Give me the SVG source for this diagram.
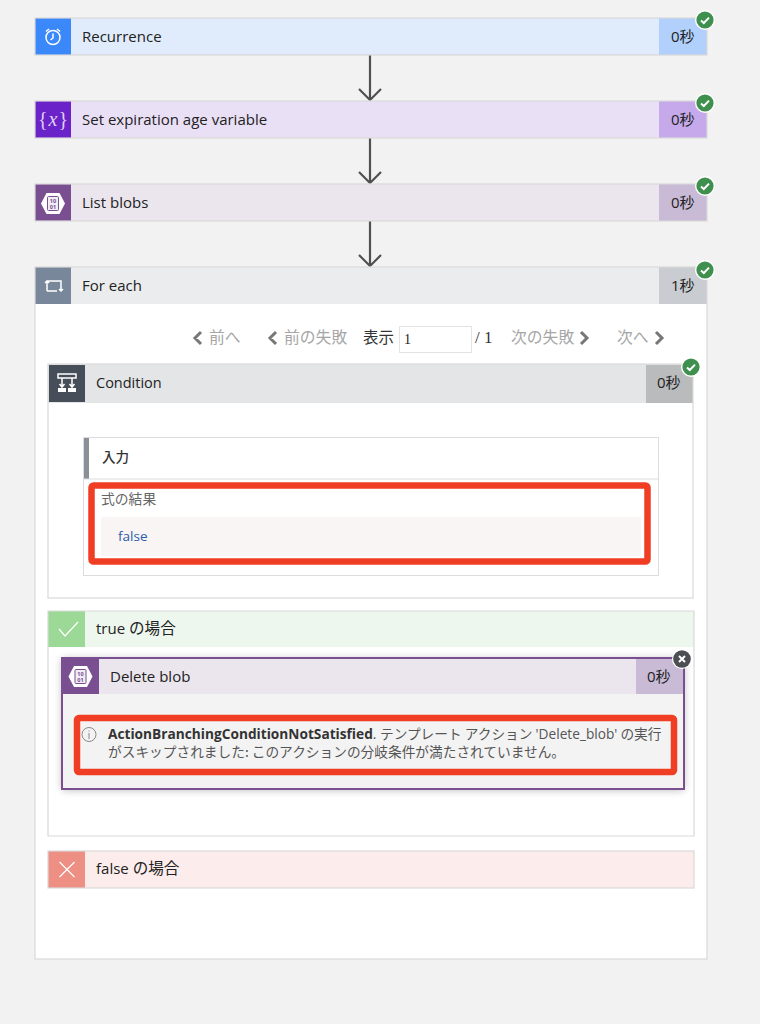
<svg xmlns="http://www.w3.org/2000/svg" width="760" height="1024" viewBox="0 0 760 1024">
<defs>
<style>
text{font-family:"Open Sans","Noto Sans","Noto Sans CJK JP",sans-serif;font-size:15px;fill:#222}
.cjk{font-family:"Noto Sans CJK JP",sans-serif}
.j{font-family:"Noto Sans CJK JP",sans-serif;font-size:15.6px}
.nav{font-size:15.8px;fill:#a6a6a6;font-family:"Noto Sans CJK JP",sans-serif}
.chev{fill:none;stroke:#777;stroke-width:3}
.edge{fill:none;stroke:#505050;stroke-width:2.2}
.ico{fill:none;stroke:#fff;stroke-width:1.5}
.border{fill:none;stroke:#d9d9d9;stroke-width:1.2}
.red{fill:none;stroke:#ef3e23;stroke-width:6.5}
.msg{font-size:13.7px;fill:#555}
</style>
<filter id="soft" x="-5%" y="-15%" width="110%" height="130%"><feGaussianBlur stdDeviation="4"/></filter>
<g id="ok"><circle r="10" fill="#fff"/><circle r="8.6" fill="#3f8f4f"/><path d="M-4 0.500L-1.200 3L4 -2.400" fill="none" stroke="#fff" stroke-width="2"/></g>
<g id="blob"><path d="M-12 0L-6.500 -10.500H6.500L12 0L6.500 10.500H-6.500Z" fill="#fff"/><rect x="-5.500" y="-7" width="11" height="14" rx="1" fill="#f1edf4" stroke="#7a4f91" stroke-width="1"/><text x="0" y="-0.500" text-anchor="middle" style="font-size:5.500px;fill:#7a4f91;font-weight:700">10</text><text x="0" y="5.500" text-anchor="middle" style="font-size:5.500px;fill:#7a4f91;font-weight:700">01</text></g>
</defs>
<rect width="760" height="1024" fill="#f2f2f2"/>
<g id="connectors">
<path class="edge" d="M370 55V100M359 89L370 100L381 89"/>
<path class="edge" d="M370 138V183M359 172L370 183L381 172"/>
<path class="edge" d="M370 221V266M359 255L370 266L381 255"/>
</g>
<g id="recurrence">
<rect x="35" y="18" width="672" height="37" fill="#e0ecfb"/><rect x="659" y="18" width="48" height="37" fill="#b1d0fc"/><rect x="35" y="18" width="36" height="37" fill="#3b88fb"/>
<rect class="border" x="35" y="18" width="672" height="37"/>
<circle class="ico" cx="53" cy="37.500" r="7" stroke-width="2"/><path class="ico" d="M53 33.500V38L50.500 40M46 31.500L49 29M60 31.500L57 29" stroke-width="2"/>
<text x="82" y="42">Recurrence</text><text x="671" y="42">0<tspan class="cjk">秒</tspan></text><use href="#ok" x="705" y="20"/>
</g>
<g id="set-variable">
<rect x="35" y="101" width="672" height="37" fill="#eae0f6"/><rect x="659" y="101" width="48" height="37" fill="#c5a9ea"/><rect x="35" y="101" width="36" height="37" fill="#6a23c8"/>
<rect class="border" x="35" y="101" width="672" height="37"/>
<text x="53" y="126" text-anchor="middle" style="font-family:'Liberation Serif',serif;font-size:20px;fill:#e0cff5">{<tspan dx="1" style="font-style:italic">x</tspan><tspan dx="1">}</tspan></text>
<text x="82" y="125">Set expiration age variable</text><text x="671" y="125">0<tspan class="cjk">秒</tspan></text><use href="#ok" x="705" y="103"/>
</g>
<g id="list-blobs">
<rect x="35" y="184" width="672" height="37" fill="#ebe6ee"/><rect x="659" y="184" width="48" height="37" fill="#c9bad6"/><rect x="35" y="184" width="36" height="37" fill="#7a4f91"/>
<rect class="border" x="35" y="184" width="672" height="37"/>
<use href="#blob" x="53" y="203.500"/>
<text x="82" y="208">List blobs</text><text x="671" y="208">0<tspan class="cjk">秒</tspan></text><use href="#ok" x="705" y="186"/>
</g>
<g id="for-each">
<rect x="35" y="267" width="672" height="692" fill="#fff"/>
<rect x="35" y="267" width="672" height="37" fill="#ebecee"/><rect x="659" y="267" width="48" height="37" fill="#c9cdd1"/><rect x="35" y="267" width="36" height="37" fill="#78889a"/>
<rect class="border" x="35" y="267" width="672" height="692"/>
<path class="ico" d="M47 291V281H61V291M47 291H57M45 283L47 281L49 283M59 289L61 291L63 289" stroke-width="1.200"/>
<text x="82" y="291">For each</text><text x="671" y="291">1<tspan class="cjk">秒</tspan></text><use href="#ok" x="705" y="270"/>
</g>
<g id="pager">
<path class="chev" d="M201 332L195 338L201 344M276 332L270 338L276 344M581 332L587 338L581 344M656 332L662 338L656 344"/>
<text class="nav" x="209" y="343">前へ</text><text class="nav" x="284" y="343">前の失敗</text>
<text class="cjk" x="363" y="343" style="font-size:15.500px;fill:#333">表示</text>
<rect x="399.500" y="326.500" width="72" height="26" fill="#fff" stroke="#e3e3e3"/>
<text x="404" y="344" style="font-family:'Liberation Serif',serif;font-size:14px;fill:#222">1</text>
<text x="475" y="343" style="font-family:'Liberation Serif',serif;font-size:17px;fill:#333">/ 1</text>
<text class="nav" x="511" y="343">次の失敗</text><text class="nav" x="617" y="343">次へ</text>
</g>
<g id="condition">
<rect x="48" y="364" width="645" height="234" fill="#fff"/>
<rect x="48" y="364" width="645" height="39" fill="#e4e5e7"/><rect x="646" y="365" width="47" height="38" fill="#b9bbbd"/><rect x="49" y="365" width="36" height="37" fill="#464f59"/>
<rect class="border" x="48" y="364" width="645" height="234"/>
<path class="ico" d="M58 374H76V378H58ZM62 378V386M72 378V386M59.500 384L62 387L64.500 384M69.500 384L72 387L74.500 384" stroke-width="1.200"/><path d="M58 388H66V392H58ZM68 388H76V392H68Z" fill="#fff"/>
<text x="96" y="388" style="font-size:14.500px">Condition</text><text x="657" y="388">0<tspan class="cjk">秒</tspan></text><use href="#ok" x="691" y="367"/>
</g>
<g id="inputs">
<rect x="83.500" y="437.500" width="575" height="138" fill="#fff" stroke="#dcdcdc"/>
<rect x="84" y="438" width="5" height="41" fill="#8a9097"/><path d="M84 479H658" stroke="#dcdcdc"/>
<text class="cjk" x="102" y="462" style="font-size:13.500px;font-weight:500;fill:#333">入力</text>
<text class="cjk" x="101" y="504" style="font-size:13.800px;fill:#666">式の結果</text>
<rect x="101" y="517" width="540" height="39" fill="#f9f5f5"/>
<text x="118" y="541" style="font-size:13.500px;fill:#2b5caa">false</text>
<rect class="red" x="91.500" y="485.500" width="556" height="76" rx="2"/>
</g>
<g id="true-branch">
<rect x="48" y="611" width="646" height="225" fill="#fff"/>
<rect x="48" y="611" width="646" height="36" fill="#edf7ee"/><rect x="48" y="611" width="37" height="36" fill="#9cd896"/>
<path d="M48 611H694V836H48Z" class="border"/>
<path d="M59 629L65 636L78 622" fill="none" stroke="#fff" stroke-width="1.200"/>
<text x="96" y="634">true <tspan class="j">の場合</tspan></text>
</g>
<g id="delete-blob">
<rect x="62" y="659" width="622" height="131" fill="#000" opacity=".28" filter="url(#soft)"/>
<rect x="62" y="658" width="622" height="131" fill="#f3f3f3"/>
<rect x="62" y="658" width="622" height="36" fill="#ebe6ee"/><rect x="636" y="658" width="48" height="36" fill="#c9bad6"/><rect x="62" y="658" width="37" height="36" fill="#7a4f91"/>
<rect x="62" y="658" width="622" height="131" fill="none" stroke="#7a4f91" stroke-width="2"/>
<use href="#blob" x="80.500" y="676.500"/>
<text x="110" y="682">Delete blob</text><text x="647" y="682">0<tspan class="cjk">秒</tspan></text>
<circle cx="682" cy="659" r="10" fill="#fff"/><circle cx="682" cy="659" r="8.800" fill="#4b4e52"/><path d="M679 656L685 662M685 656L679 662" stroke="#fff" stroke-width="2"/>
<circle cx="89" cy="734.500" r="7" fill="none" stroke="#888"/><path d="M89 733V739M89 730.500V731.500" stroke="#888"/>
<text class="msg" x="108" y="739"><tspan style="font-weight:700;fill:#333">ActionBranchingConditionNotSatisfied</tspan>. <tspan class="cjk">テンプレート アクション </tspan>'Delete_blob'<tspan class="cjk"> の実行</tspan></text>
<text class="msg cjk" x="108" y="757">がスキップされました: このアクションの分岐条件が満たされていません。</text>
<rect class="red" x="77" y="718" width="597" height="54" rx="2"/>
</g>
<g id="false-branch">
<rect x="48" y="851" width="646" height="37" fill="#fcedec"/><rect x="48" y="851" width="37" height="37" fill="#ee8f84"/>
<rect class="border" x="48" y="851" width="646" height="37"/>
<path d="M59.500 862L74.500 877M74.500 862L59.500 877" stroke="#fff" stroke-width="1.200"/>
<text x="96" y="874">false <tspan class="j">の場合</tspan></text>
</g>
</svg>
